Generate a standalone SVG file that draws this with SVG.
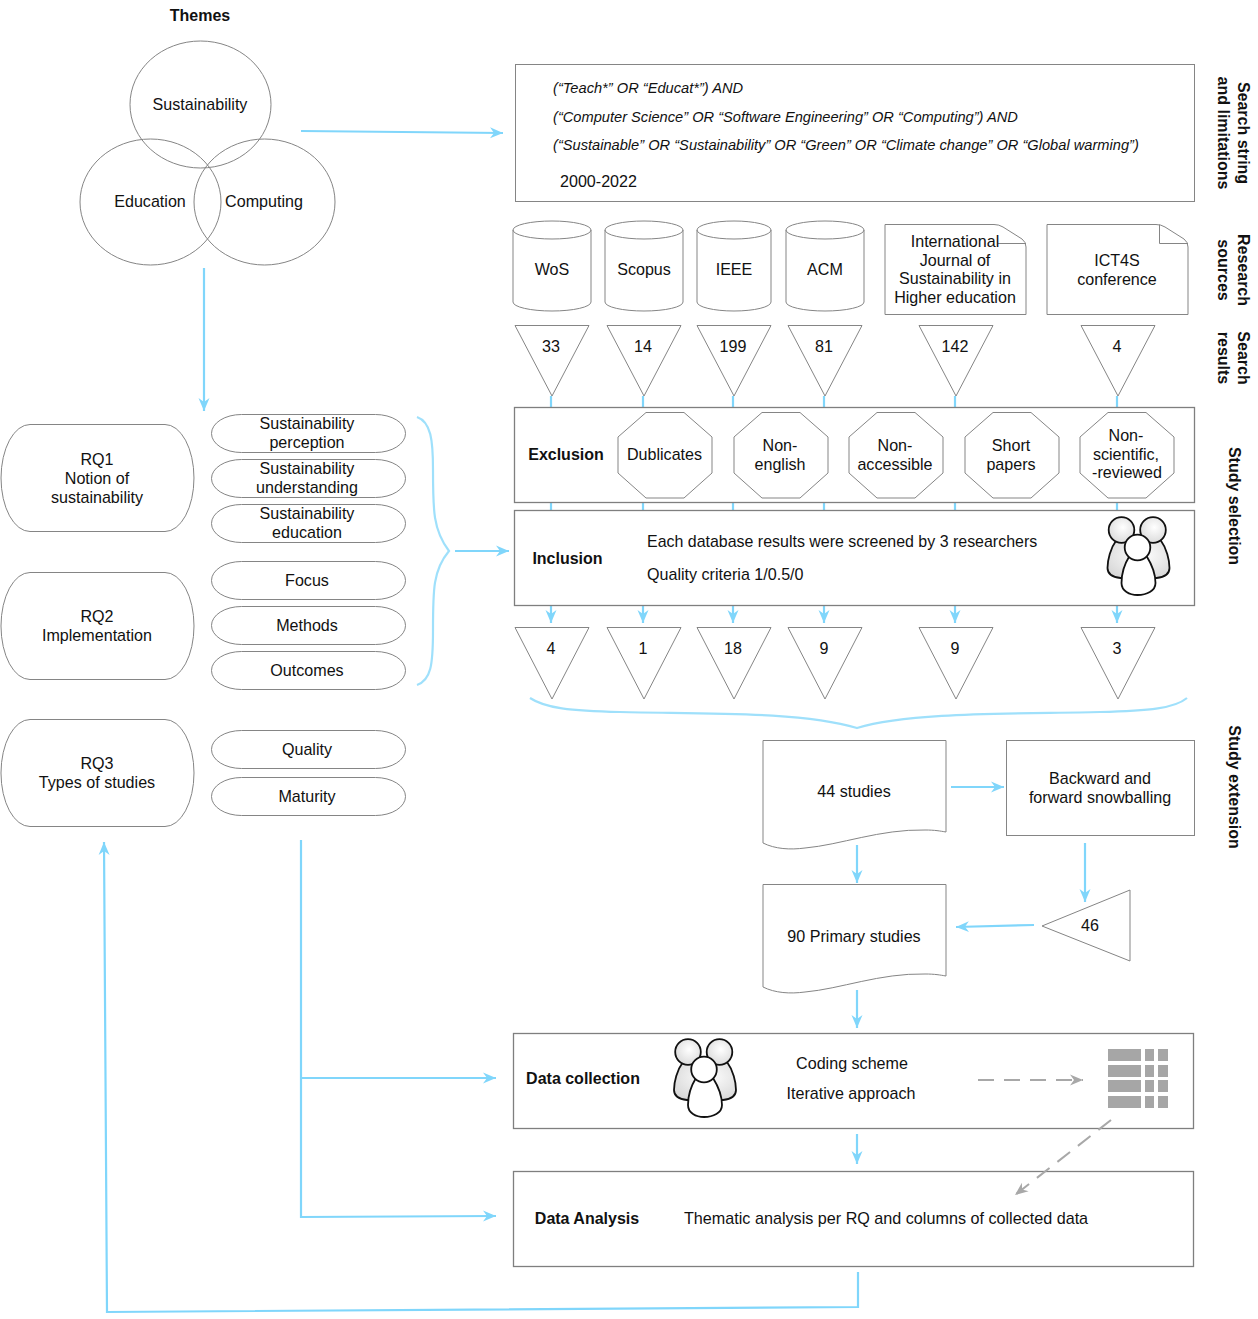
<svg xmlns="http://www.w3.org/2000/svg" xmlns:xlink="http://www.w3.org/1999/xlink" width="1258" height="1319" viewBox="0 0 1258 1319">
<style>
text{font-family:"Liberation Sans",Arial,sans-serif;font-size:16.1px;fill:#111;text-anchor:middle}
.s{fill:#fff;stroke:#858585;stroke-width:1}
.b{fill:#fff;stroke:#7f7f7f;stroke-width:1.3}
.f{fill:none;stroke:#858585;stroke-width:1}
.l{text-anchor:start}
.h{font-weight:bold;font-size:16px}
.i{font-style:italic;font-size:14.65px;text-anchor:start}
.v{font-weight:bold;font-size:16px}
.c{fill:none;stroke:#80d6fb;stroke-width:2.2;marker-end:url(#a)}
.n{fill:none;stroke:#80d6fb;stroke-width:2.2}
.w{fill:none;stroke:#9fe0fb;stroke-width:2.2}
.d{fill:none;stroke:#a8a8a8;stroke-width:2;stroke-dasharray:16 10;marker-end:url(#g)}
.t{fill:#a6a6a6}
</style>
<defs>
<marker id="a" markerUnits="userSpaceOnUse" markerWidth="16" markerHeight="14" refX="13" refY="7" orient="auto"><path d="M0 1.500L13 7L0 12.500L4 7Z" fill="#80d6fb"/></marker>
<marker id="g" markerUnits="userSpaceOnUse" markerWidth="16" markerHeight="14" refX="13" refY="7" orient="auto"><path d="M0 1.500L13 7L0 12.500L4 7Z" fill="#a8a8a8"/></marker>
<radialGradient id="p" cx="0.55" cy="0.4" r="0.7"><stop offset="0" stop-color="#fff"/><stop offset="1" stop-color="#d6d6d6"/></radialGradient>
<g id="people">
<g fill="url(#p)" stroke="#111" stroke-width="1.8">
<path d="M-22 4C-28 12-31 24-31 32C-31 38-27 41-18 42L18 42C27 41 31 38 31 32C31 24 28 12 22 4Z"/>
<circle cx="-17" cy="-6" r="12.800"/>
<circle cx="14.500" cy="-6" r="12.800"/>
</g>
<path d="M-9 20C-14 28-17 38-17 47C-17 55-9 59-1 59C8 59 17 55 17 47C17 38 13 28 8 20Z" fill="#fff" stroke="#111" stroke-width="1.8"/>
<circle cx="-1" cy="11.500" r="12.800" fill="#fff" stroke="#111" stroke-width="1.8"/>
</g>
</defs>

<g id="connectors">
<path class="c" d="M301 131L503 133"/>
<path class="c" d="M204 268V411"/>
<path class="w" d="M417 417C431 422 433 440 433 470C433 510 433 530 449 551C433 570 433 590 433 630C433 665 431 680 417 685"/>
<path class="c" d="M455 551L509 551"/>
<path class="n" d="M551 396V407M643 396V407M733 396V407M824 396V407M955 396V407M1117 396V407M551 502V510M643 502V510M733 502V510M824 502V510M955 502V510M1117 502V510"/>
<path class="c" d="M551 605V623"/><path class="c" d="M643 605V623"/><path class="c" d="M733 605V623"/><path class="c" d="M824 605V623"/><path class="c" d="M955 605V623"/><path class="c" d="M1117 605V623"/>
<path class="w" d="M530 698C545 708 570 711 620 712C700 714 800 711 857 728C910 712 1010 714 1100 712C1150 711 1175 708 1187 698"/>
<path class="c" d="M951 787L1004 787"/>
<path class="c" d="M857 845V883"/>
<path class="c" d="M1085 843V902"/>
<path class="c" d="M1034 925L956 927"/>
<path class="c" d="M857 990V1028"/>
<path class="c" d="M857 1134V1164"/>
<path class="c" d="M301 840V1217L496 1216"/>
<path class="c" d="M301 1078H496"/>
<path class="c" d="M858 1272V1307L107 1312L104 842"/>
</g>

<g id="themes">
<text class="h" x="200" y="21">Themes</text>
<g id="n-sustainability"><ellipse cx="200.500" cy="104.500" rx="70.500" ry="63.500" class="f"/><text x="200" y="110">Sustainability</text></g>
<g id="n-education"><ellipse cx="150.500" cy="202" rx="70.500" ry="63" class="f"/><text x="150" y="207">Education</text></g>
<g id="n-computing"><ellipse cx="264.500" cy="202" rx="70.500" ry="63" class="f"/><text x="264" y="207">Computing</text></g>
</g>

<g id="n-search"><rect class="s" x="515.500" y="64.500" width="679" height="137"/>
<text class="i" x="553" y="93">(“Teach*” OR “Educat*”) AND</text>
<text class="i" x="553" y="122">(“Computer Science” OR “Software Engineering” OR “Computing”) AND</text>
<text class="i" x="553" y="150">(“Sustainable” OR “Sustainability” OR “Green” OR “Climate change” OR “Global warming”)</text>
<text class="l" x="560" y="187">2000-2022</text></g>

<g id="n-wos"><path class="s" d="M513 230A39 9 0 0 1 591 230V302A39 9 0 0 1 513 302Z"/><path class="f" d="M513 230A39 9 0 0 0 591 230"/><text x="552" y="275">WoS</text></g>
<g id="n-scopus"><path class="s" d="M605 230A39 9 0 0 1 683 230V302A39 9 0 0 1 605 302Z"/><path class="f" d="M605 230A39 9 0 0 0 683 230"/><text x="644" y="275">Scopus</text></g>
<g id="n-ieee"><path class="s" d="M697 230A37 9 0 0 1 771 230V302A37 9 0 0 1 697 302Z"/><path class="f" d="M697 230A37 9 0 0 0 771 230"/><text x="734" y="275">IEEE</text></g>
<g id="n-acm"><path class="s" d="M786 230A39 9 0 0 1 864 230V302A39 9 0 0 1 786 302Z"/><path class="f" d="M786 230A39 9 0 0 0 864 230"/><text x="825" y="275">ACM</text></g>
<g id="n-ijshe"><path class="s" d="M885 224.500H994Q999 224.500 1003 227L1022 239Q1026 242 1026 247V314.500H885Z"/><path class="f" d="M998 243.500H1026"/>
<text x="955" y="247">International</text><text x="955" y="266">Journal of</text><text x="955" y="284">Sustainability in</text><text x="955" y="303">Higher education</text></g>
<g id="n-ict4s"><path class="s" d="M1047 224.500H1156Q1161 224.500 1165 227L1184 239Q1188 242 1188 247V314.500H1047Z"/><path class="f" d="M1159.500 224.500V243.500H1188"/>
<text x="1117" y="266">ICT4S</text><text x="1117" y="285">conference</text></g>

<g id="n-r1"><path class="s" d="M515 325.500H589L552 396Z"/><text x="551" y="352">33</text></g>
<g id="n-r2"><path class="s" d="M607 325.500H681L644 396Z"/><text x="643" y="352">14</text></g>
<g id="n-r3"><path class="s" d="M697 325.500H771L734 396Z"/><text x="733" y="352">199</text></g>
<g id="n-r4"><path class="s" d="M788 325.500H862L825 396Z"/><text x="824" y="352">81</text></g>
<g id="n-r5"><path class="s" d="M919 325.500H993L956 396Z"/><text x="955" y="352">142</text></g>
<g id="n-r6"><path class="s" d="M1081 325.500H1155L1118 396Z"/><text x="1117" y="352">4</text></g>

<g id="n-exclusion"><rect class="b" x="514.500" y="407.500" width="680" height="95"/><text class="h" x="566" y="460">Exclusion</text></g>
<g id="n-x1"><path class="s" d="M646 412.500H684L712 437V473L684 498H646L618 473V437Z"/><text x="664.500" y="460">Dublicates</text></g>
<g id="n-x2"><path class="s" d="M762 412.500H800L828 437V473L800 498H762L734 473V437Z"/><text x="780" y="451">Non-</text><text x="780" y="470">english</text></g>
<g id="n-x3"><path class="s" d="M877 412.500H915L943 437V473L915 498H877L849 473V437Z"/><text x="895" y="451">Non-</text><text x="895" y="470">accessible</text></g>
<g id="n-x4"><path class="s" d="M993 412.500H1031L1059 437V473L1031 498H993L965 473V437Z"/><text x="1011" y="451">Short</text><text x="1011" y="470">papers</text></g>
<g id="n-x5"><path class="s" d="M1108 412.500H1146L1174 437V473L1146 498H1108L1080 473V437Z"/><text x="1126" y="441">Non-</text><text x="1126" y="460">scientific,</text><text x="1127" y="478">-reviewed</text></g>

<g id="n-inclusion"><rect class="b" x="514.500" y="510.500" width="680" height="95"/><text class="h" x="567.500" y="564">Inclusion</text>
<text class="l" x="647" y="547" style="font-size:15.96px">Each database results were screened by 3 researchers</text>
<text class="l" x="647" y="580">Quality criteria 1/0.5/0</text>
<use xlink:href="#people" href="#people" x="1138.500" y="536"/></g>

<g id="n-f1"><path class="s" d="M515 627.500H589L552 699Z"/><text x="551" y="654">4</text></g>
<g id="n-f2"><path class="s" d="M607 627.500H681L644 699Z"/><text x="643" y="654">1</text></g>
<g id="n-f3"><path class="s" d="M697 627.500H771L734 699Z"/><text x="733" y="654">18</text></g>
<g id="n-f4"><path class="s" d="M788 627.500H862L825 699Z"/><text x="824" y="654">9</text></g>
<g id="n-f5"><path class="s" d="M919 627.500H993L956 699Z"/><text x="955" y="654">9</text></g>
<g id="n-f6"><path class="s" d="M1081 627.500H1155L1118 699Z"/><text x="1117" y="654">3</text></g>

<g id="n-rq1"><path class="s" d="M30 424.500H165A29 53.500 0 0 1 165 531.500H30A29 53.500 0 0 1 30 424.500Z"/><text x="97" y="465">RQ1</text><text x="97" y="484">Notion of</text><text x="97" y="503">sustainability</text></g>
<g id="n-rq2"><path class="s" d="M30 572.500H165A29 53.500 0 0 1 165 679.500H30A29 53.500 0 0 1 30 572.500Z"/><text x="97" y="622">RQ2</text><text x="97" y="641">Implementation</text></g>
<g id="n-rq3"><path class="s" d="M30 719.500H165A29 53.500 0 0 1 165 826.500H30A29 53.500 0 0 1 30 719.500Z"/><text x="97" y="769">RQ3</text><text x="97" y="788">Types of studies</text></g>

<g id="n-p1"><rect class="s" x="211.500" y="414.500" width="194" height="38" rx="30" ry="19"/><text x="307" y="429">Sustainability</text><text x="307" y="448">perception</text></g>
<g id="n-p2"><rect class="s" x="211.500" y="459.500" width="194" height="38" rx="30" ry="19"/><text x="307" y="474">Sustainability</text><text x="307" y="493">understanding</text></g>
<g id="n-p3"><rect class="s" x="211.500" y="504.500" width="194" height="38" rx="30" ry="19"/><text x="307" y="519">Sustainability</text><text x="307" y="538">education</text></g>
<g id="n-p4"><rect class="s" x="211.500" y="561.500" width="194" height="38" rx="30" ry="19"/><text x="307" y="586">Focus</text></g>
<g id="n-p5"><rect class="s" x="211.500" y="606.500" width="194" height="38" rx="30" ry="19"/><text x="307" y="631">Methods</text></g>
<g id="n-p6"><rect class="s" x="211.500" y="651.500" width="194" height="38" rx="30" ry="19"/><text x="307" y="676">Outcomes</text></g>
<g id="n-p7"><rect class="s" x="211.500" y="730.500" width="194" height="38" rx="30" ry="19"/><text x="307" y="755">Quality</text></g>
<g id="n-p8"><rect class="s" x="211.500" y="777.500" width="194" height="38" rx="30" ry="19"/><text x="307" y="802">Maturity</text></g>

<g id="n-44"><path class="s" d="M763 740.500H946V832C940 831 935 830 925 830C880 829 840 845 805 848C790 850 775 849 763 843Z"/><text x="854" y="797">44 studies</text></g>
<g id="n-snow"><rect class="s" x="1006.500" y="740.500" width="188" height="95"/><text x="1100" y="784">Backward and</text><text x="1100" y="803">forward snowballing</text></g>
<g id="n-90"><path class="s" d="M763 884.500H946V976C940 975 935 974 925 974C880 973 840 989 805 992C790 994 775 993 763 987Z"/><text x="854" y="942">90 Primary studies</text></g>
<g id="n-46"><path class="s" d="M1130 890V961L1042 926Z"/><text x="1090" y="931">46</text></g>

<g id="n-collection"><rect class="b" x="513.500" y="1033.500" width="680" height="95"/><text class="h" x="583" y="1084">Data collection</text>
<use xlink:href="#people" href="#people" x="705" y="1058"/>
<text x="852" y="1069">Coding scheme</text><text x="851" y="1099">Iterative approach</text>
<rect class="t" x="1108" y="1049" width="33" height="12"/><rect class="t" x="1145" y="1049" width="9" height="12"/><rect class="t" x="1158" y="1049" width="10" height="12"/>
<rect class="t" x="1108" y="1065" width="33" height="12"/><rect class="t" x="1145" y="1065" width="9" height="12"/><rect class="t" x="1158" y="1065" width="10" height="12"/>
<rect class="t" x="1108" y="1080" width="33" height="12"/><rect class="t" x="1145" y="1080" width="9" height="12"/><rect class="t" x="1158" y="1080" width="10" height="12"/>
<rect class="t" x="1108" y="1096" width="33" height="12"/><rect class="t" x="1145" y="1096" width="9" height="12"/><rect class="t" x="1158" y="1096" width="10" height="12"/></g>
<g id="n-analysis"><rect class="b" x="513.500" y="1171.500" width="680" height="95"/><text class="h" x="587" y="1224">Data Analysis</text><text class="l" x="684" y="1224" style="font-size:16.16px">Thematic analysis per RQ and columns of collected data</text></g>

<g id="dashed-connectors">
<path class="d" d="M978 1080H1083"/>
<path class="d" d="M1111 1120L1015 1195"/>
</g>

<g id="side-labels">
<g transform="translate(1238 133) rotate(90)"><text class="v" x="0" y="0">Search string</text></g>
<g transform="translate(1218 133) rotate(90)"><text class="v" x="0" y="0">and limitations</text></g>
<g transform="translate(1238 270) rotate(90)"><text class="v" x="0" y="0">Research</text></g>
<g transform="translate(1218 270) rotate(90)"><text class="v" x="0" y="0">sources</text></g>
<g transform="translate(1238 358) rotate(90)"><text class="v" x="0" y="0">Search</text></g>
<g transform="translate(1218 358) rotate(90)"><text class="v" x="0" y="0">results</text></g>
<g transform="translate(1229 506) rotate(90)"><text class="v" x="0" y="0">Study selection</text></g>
<g transform="translate(1229 787) rotate(90)"><text class="v" x="0" y="0">Study extension</text></g>
</g>
</svg>
